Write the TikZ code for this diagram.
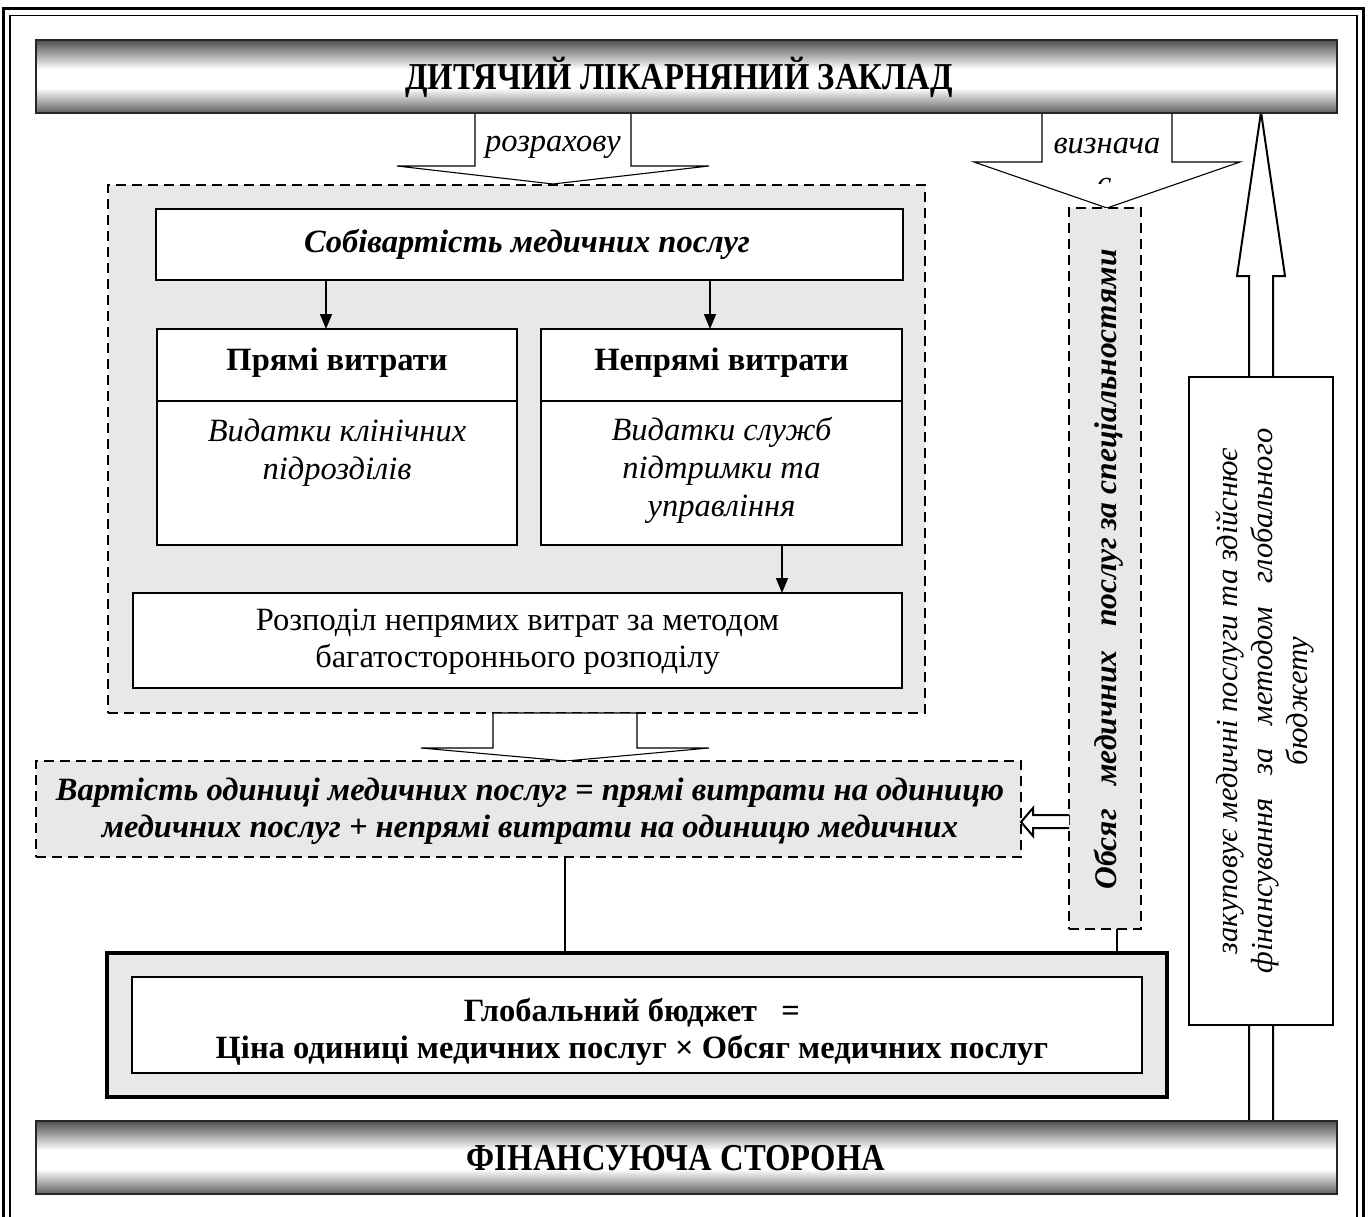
\documentclass[tikz,border=0pt]{standalone}
\usepackage{fontspec}
\setmainfont{Liberation Serif}
\usetikzlibrary{arrows.meta}

\definecolor{panel}{RGB}{232,232,232}
\definecolor{tubedark}{RGB}{95,95,95}
\definecolor{tubedarktop}{RGB}{80,80,80}
% metallic tube look for the two horizontal bars (bottom -> top)
\pgfdeclareverticalshading{tube}{100bp}{%
  color(0bp)=(tubedark); color(25bp)=(tubedark);
  color(42bp)=(white); color(55bp)=(white);
  color(75bp)=(tubedarktop); color(100bp)=(tubedarktop)}

\newcommand{\narrowcaps}[1]{\scalebox{0.86}[1]{#1}}

\begin{document}
\begin{tikzpicture}[x=1pt,y=-1pt,
  every node/.style={inner sep=0pt, outer sep=0pt},
  box/.style={draw=black, line width=1.8pt, fill=white, rectangle},
  dbox/.style={draw=black, line width=2.5pt, dash pattern=on 10pt off 6pt, fill=panel, rectangle},
  bar/.style={draw=black!85, line width=1.5pt, shading=tube, rectangle},
  conn/.style={line width=1.7pt, -{Triangle[length=15pt,width=12pt]}},
  link/.style={line width=1.7pt},
  blockarrow/.style={draw=black, line width=1.1pt, fill=white, line join=miter},
  fatarrow/.style={draw=black, line width=2pt, fill=white, line join=miter},
  fbig/.style={font=\fontsize{38}{44}\selectfont\bfseries},
  fb/.style={font=\fontsize{32.5}{37}\selectfont\bfseries},
  fbi/.style={font=\fontsize{32.5}{37}\selectfont\bfseries\itshape},
  fi/.style={font=\fontsize{32.5}{38.5}\selectfont\itshape},
  fr/.style={font=\fontsize{32.5}{37}\selectfont},
]
\useasboundingbox (0,0) rectangle (1368,1217);
\clip (0,0) rectangle (1368,1217);

% outer double frame
\draw[line width=3pt] (3.5,9) rectangle (1363,1240);
\draw[line width=1.3pt] (10,15.5) rectangle (1357,1235);

% up arrow: financing side -> hospital
\draw[fatarrow] (1249,1121) -- (1249,276) -- (1237,276) -- (1261,112)
  -- (1285,276) -- (1273,276) -- (1273,1121);

% block arrow "розрахову"
\draw[blockarrow] (475,113) -- (475,166) -- (397,166) -- (553,184)
  -- (709,166) -- (631,166) -- (631,113);
\node[fi] (lblcalc) at (553,147) {розрахову};

% block arrow "визначає"
\draw[blockarrow] (1042,113) -- (1042,162) -- (974,162) -- (1107,208)
  -- (1240,162) -- (1172,162) -- (1172,113);
\node[fi] (lbldef) at (1107,146) {визнача};
\begin{scope}
  \clip (1060,170) rectangle (1150,184);
  \node[fi, anchor=base] (lbldef2) at (1104,194) {є};
\end{scope}

% bars
\node[bar, minimum width=1301pt, minimum height=73pt] (topbar) at (686.5,76.5) {};
\node[fbig] (toptxt) at (679,77) {\narrowcaps{ДИТЯЧИЙ ЛІКАРНЯНИЙ ЗАКЛАД}};
\node[bar, minimum width=1301pt, minimum height=73pt] (botbar) at (686.5,1157.5) {};
\node[fbig] (bottxt) at (676,1158) {\narrowcaps{ФІНАНСУЮЧА СТОРОНА}};

% cost calculation block
\node[dbox, minimum width=817pt, minimum height=528pt] (c1) at (516.5,449) {};
\node[box, minimum width=747pt, minimum height=71pt] (sob) at (529.5,244.5) {};
\node[fbi] (sobtxt) at (527,244.5) {Собівартість медичних послуг};

\node[box, minimum width=360pt, minimum height=72pt] (prmH) at (337,365) {};
\node[box, minimum width=360pt, minimum height=144pt] (prmB) at (337,473) {};
\node[fb] (prmHt) at (337,363) {Прямі витрати};
\node[fi, align=center] (prmBt) at (337,452.5) {Видатки клінічних\\підрозділів};

\node[box, minimum width=361pt, minimum height=72pt] (nprH) at (721.5,365) {};
\node[box, minimum width=361pt, minimum height=144pt] (nprB) at (721.5,473) {};
\node[fb] (nprHt) at (721.5,363) {Непрямі витрати};
\node[fi, align=center, font=\fontsize{32.5}{38}\selectfont\itshape] (nprBt) at (721.5,470) {Видатки служб\\підтримки та\\управління};

\node[box, minimum width=769pt, minimum height=95pt] (rozp) at (517.5,640.5) {};
\node[fr, align=center] (rozpt) at (517.5,641.5) {Розподіл непрямих витрат за методом\\багатостороннього розподілу};

\coordinate (ax1) at (326,0);
\coordinate (ax2) at (710,0);
\coordinate (ax3) at (782,0);
\draw[conn] (sob.south -| ax1) -- (prmH.north -| ax1);
\draw[conn] (sob.south -| ax2) -- (nprH.north -| ax2);
\draw[conn] (nprB.south -| ax3) -- (rozp.north -| ax3);

% block arrow to unit cost
\draw[blockarrow] (493,713) -- (493,748) -- (421,748) -- (566,761)
  -- (709,748) -- (637,748) -- (637,713) -- cycle;

% unit cost
\node[dbox, minimum width=985pt, minimum height=96pt] (c2) at (528.5,809) {};
\node[fbi, align=center] (c2t) at (530,811.5) {Вартість одиниці медичних послуг = прямі витрати на одиницю\\медичних послуг + непрямі витрати на одиницю медичних};

% volume by specialty
\node[dbox, minimum width=72pt, minimum height=721pt] (vbox) at (1105,568.5) {};
\node[rotate=90, font=\fontsize{31.5}{36}\selectfont\bfseries\itshape] (vboxt) at (1109,569) {Обсяг\hspace{0.5em} медичних\hspace{0.5em} послуг за спеціальностями};

% purchaser box
\node[box, minimum width=144pt, minimum height=648pt] (rbox) at (1261,701) {};
\node[rotate=90, align=center, font=\fontsize{30.5}{35}\selectfont\itshape] (rboxt) at (1265,701)
  {закуповує медичні послуги та здійснює\\фінансування\hspace{0.5em} за\hspace{0.5em} методом\hspace{0.5em} глобального\\бюджету};

% hollow arrow volume -> unit cost
\draw[fatarrow] (vbox.west |- 0,815) -- (1033,815) -- (1033,808) -- (c2.east |- 0,822)
  -- (1033,836) -- (1033,828) -- (vbox.west |- 0,828);

% global budget
\node[draw=black, line width=4pt, fill=panel, minimum width=1060pt, minimum height=144pt] (glob) at (637,1025) {};
\node[box, line width=1.6pt, minimum width=1010pt, minimum height=96pt] (globin) at (637,1025) {};
\node[fb, align=center] (globt) at (632,1031.5) {Глобальний бюджет\hspace{0.5em} =\\Ціна одиниці медичних послуг × Обсяг медичних послуг};

\coordinate (ax4) at (565,0);
\coordinate (ax5) at (1117,0);
\draw[link] (c2.south -| ax4) -- (glob.north -| ax4);
\draw[link] (vbox.south -| ax5) -- (glob.north -| ax5);
\end{tikzpicture}
\end{document}
